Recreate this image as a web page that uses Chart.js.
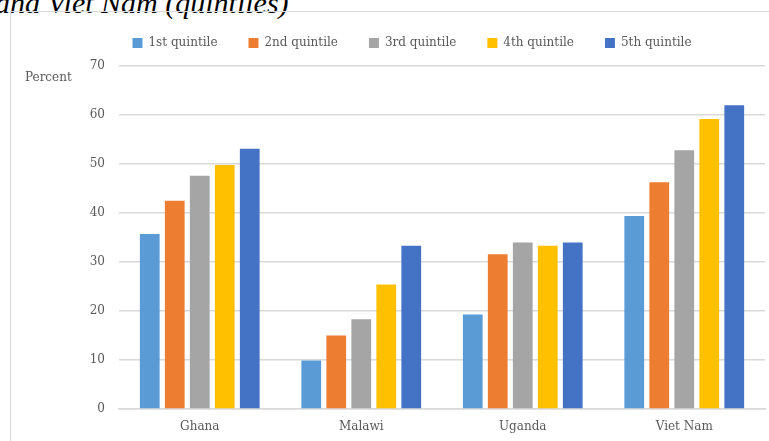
<!DOCTYPE html>
<html>
<head>
<meta charset="utf-8">
<script src="https://cdn.jsdelivr.net/npm/chart.js@4"></script>
<style>
  html, body { margin: 0; padding: 0; background: #fff; overflow: hidden; width: 769px; height: 441px; }
  #title { position: absolute; left: -5px; top: -14px; font-family: "Liberation Serif", serif; font-style: italic; font-size: 30px; color: #000; white-space: nowrap; }
  #box { position: absolute; left: 10px; top: 11px; width: 805px; height: 470px; border: 1px solid #d9d9d9; box-sizing: border-box; }
  #wrap { position: absolute; left: 11px; top: 6px; width: 803px; height: 433px; }
</style>
</head>
<body>
<div id="title">and Viet Nam (quintiles)</div>
<div id="box"></div>
<div id="wrap"><canvas id="c"></canvas></div>
<script>
const countries = ['Ghana', 'Malawi', 'Uganda', 'Viet Nam'];
const quintiles = ['1st quintile', '2nd quintile', '3rd quintile', '4th quintile', '5th quintile'];
const q1 = [35.7, 9.9, 19.3, 39.4];
const q2 = [42.5, 15.0, 31.6, 46.3];
const q3 = [47.6, 18.3, 34.0, 52.8];
const q4 = [49.8, 25.4, 33.3, 59.2];
const q5 = [53.1, 33.3, 34.0, 62.0];
const colors = ['#5B9BD5', '#ED7D31', '#A5A5A5', '#FFC000', '#4472C4'];

const font = 'DejaVu Serif';
const grey = '#595959';

// extra space between legend and plot
const legendGap = {
    id: 'legendGap',
    beforeInit(chart) {
        const fit = chart.legend.fit;
        chart.legend.fit = function () {
            fit.bind(chart.legend)();
            this.height += 7;
        };
    }
};

const percentLabel = {
    id: 'percentLabel',
    afterDraw(chart) {
        const c = chart.ctx;
        c.save();
        c.font = '12px "' + font + '"';
        c.fillStyle = grey;
        c.textBaseline = 'middle';
        c.fillText('Percent', chart.chartArea.left - 94, chart.chartArea.top + 12);
        c.restore();
    }
};

const series = [q1, q2, q3, q4, q5];

new Chart(document.getElementById('c'), {
    type: 'bar',
    data: {
        labels: countries,
        datasets: series.map((d, i) => ({
            label: quintiles[i],
            data: d,
            backgroundColor: colors[i],
            categoryPercentage: 0.774,
            barPercentage: 0.79
        }))
    },
    options: {
        responsive: true,
        maintainAspectRatio: false,
        animation: false,
        layout: { padding: { left: 48, right: 49, top: 0, bottom: 0 } },
        plugins: {
            legend: {
                position: 'top',
                labels: {
                    boxWidth: 10,
                    boxHeight: 10,
                    padding: 31,
                    color: grey,
                    font: { family: font, size: 12 }
                }
            },
            tooltip: { enabled: false }
        },
        scales: {
            x: {
                afterFit(scale) { scale.height = 30; },
                grid: { display: false },
                border: { color: '#d9d9d9', width: 1.5 },
                ticks: { color: grey, font: { family: font, size: 12 }, padding: 3 }
            },
            y: {
                min: 0,
                max: 70,
                afterFit(scale) { scale.width = 60; },
                grid: { color: '#d9d9d9', lineWidth: 1.5, drawTicks: false },
                border: { display: false },
                ticks: { stepSize: 10, color: grey, font: { family: font, size: 12 }, padding: 14 }
            }
        }
    },
    plugins: [legendGap, percentLabel]
});
</script>
</body>
</html>
